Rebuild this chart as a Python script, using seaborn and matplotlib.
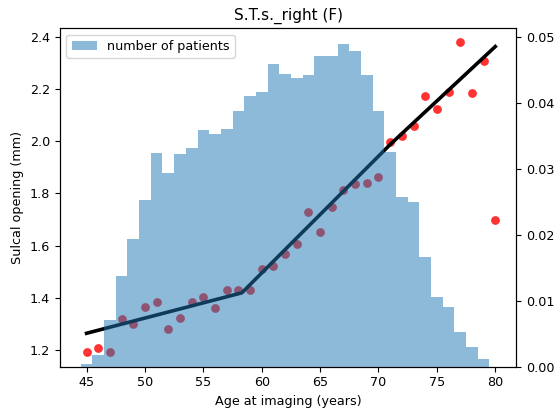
import numpy as np
import pandas as pd
import matplotlib
matplotlib.use("Agg")
import matplotlib.pyplot as plt
from matplotlib.patches import Patch
import seaborn as sns

# ---- data ----
ages = [45, 46, 47, 48, 49, 50, 51, 52, 53, 54, 55, 56, 57, 58, 59, 60, 61, 62,
        63, 64, 65, 66, 67, 68, 69, 70, 71, 72, 73, 74, 75, 76, 77, 78, 79, 80]
opening = [1.191, 1.206, 1.193, 1.319, 1.300, 1.366, 1.384, 1.281, 1.324, 1.382,
           1.402, 1.362, 1.430, 1.430, 1.430, 1.512, 1.522, 1.567, 1.606, 1.730,
           1.652, 1.748, 1.813, 1.837, 1.840, 1.864, 1.997, 2.019, 2.057, 2.171,
           2.124, 2.187, 2.379, 2.185, 2.306, 1.698]

fit_age = [45, 58.3, 71.0, 80]
fit_opening = [1.264, 1.419, 1.987, 2.362]

hist_age = [45, 46, 47, 48, 49, 50, 51, 52, 53, 54, 55, 56, 57, 58, 59, 60, 61, 62,
            63, 64, 65, 66, 67, 68, 69, 70, 71, 72, 73, 74, 75, 76, 77, 78, 79]
hist_density = [0.00045, 0.0018, 0.0070, 0.0137, 0.0194, 0.0252, 0.0324, 0.0294,
                0.0323, 0.0332, 0.0358, 0.0353, 0.0360, 0.0388, 0.0410, 0.0416,
                0.0459, 0.0444, 0.0438, 0.0442, 0.0470, 0.0470, 0.0489, 0.0479,
                0.0442, 0.0387, 0.0326, 0.0257, 0.0250, 0.0166, 0.0105, 0.0090,
                0.0053, 0.0030, 0.0012]

title = "S.T.s._right (F)"
xlabel = "Age at imaging (years)"
ylabel = "Sulcal opening (mm)"
hist_label = "number of patients"

pts = pd.DataFrame({"age": ages, "opening": opening})
fit = pd.DataFrame({"age": fit_age, "opening": fit_opening})
hist = pd.DataFrame({"age": hist_age, "density": hist_density})

fig = plt.figure(figsize=(5.55, 4.09), dpi=100)
ax1 = fig.add_axes([60 / 555, 1 - 366.7 / 409, (516 - 60) / 555, (366.7 - 28.3) / 409])
ax2 = ax1.twinx()

fs = 9.2
sns.scatterplot(data=pts, x="age", y="opening", ax=ax1, color="red", alpha=0.8,
                s=40, linewidth=0, zorder=2)
sns.lineplot(data=fit, x="age", y="opening", ax=ax1, color="black", linewidth=2.6,
             zorder=3)

sns.histplot(data=hist, x="age", weights="density", binwidth=1.0,
             binrange=(min(hist_age) - 0.5, max(hist_age) + 0.5), element="step",
             fill=True, alpha=0.5, color="#1f77b4", linewidth=0, ax=ax2)

ax1.set_xlim(42.725, 81.775)
ax1.set_ylim(1.136, 2.432)
ax2.set_ylim(0, 0.05127)
ax1.set_xticks([45, 50, 55, 60, 65, 70, 75, 80])

ax1.set_xlabel(xlabel, fontsize=fs)
ax1.set_ylabel(ylabel, fontsize=fs)
ax2.set_ylabel("")
ax1.set_title(title, fontsize=11)
ax1.tick_params(labelsize=fs)
ax2.tick_params(labelsize=fs)

ax2.legend(handles=[Patch(facecolor="#1f77b4", alpha=0.5, label=hist_label)],
           loc="upper left", fontsize=fs)

fig.savefig("out.png", dpi=100)
